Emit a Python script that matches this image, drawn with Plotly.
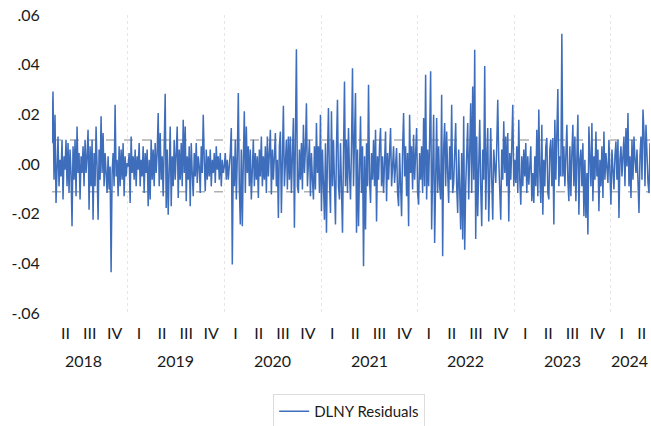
import pandas as pd
import plotly.graph_objects as go

# ---- data (residual values, in chronological order) ----
res_2018 = [.0084,.0292,-.0063,.0198,-.0157,.0031,.0111,-.009,.0017,-.005,
            .0098,-.0143,.0031,-.0023,.0098,-.009,.0084,-.0117,.0058,-.0036,
            -.0251,.0071,-.0063,.0098,-.013,.0151,-.0036,.0044,-.0143,.0031,
            -.0036,.0071,-.009,.0098,-.0036,.0031,.0138,-.0184,.0071,-.009,
            .0098,-.0224,.0044,-.009,.0151,-.001,-.0224,.0058,-.0063,.0192,
            -.0036,.0125,-.009,.0044,-.0063,-.0117,.0031,-.0103,-.001,-.0436,
            -.0036,.0044,-.009,.0239,-.005,.0017,-.013,.0071,-.009,.0058,
            -.0063,.0084,-.013,.0031,-.005,.0004]
res_2019 = [-.001,.0044,-.0157,.0111,-.0036,.0031,-.0063,.0058,-.009,.0031,
            -.0023,.0084,-.009,.0017,-.005,.0071,-.0117,.0044,-.0036,.0058,
            -.017,.0017,-.0143,.0098,-.0063,.0058,-.009,.0084,-.0036,.0044,
            .0205,-.009,.0125,-.0063,.0031,-.013,.0071,.0283,-.0177,.0058,
            -.0204,.0017,.0151,-.017,.0031,-.009,.0098,-.0063,.0044,.0151,
            -.0137,.0058,-.0063,.0084,-.009,.0178,-.0036,.0151,-.015,.0031,
            -.0063,.0071,-.017,.0084,-.0036,-.013,.0044,-.005,.0084,-.0076,
            .0031,-.001,-.0117,.0071,-.0036,.0198,.0017,-.011,.0058,-.0063,
            .0031,-.005,.0058,-.009,.0017,-.0036,.0044,-.0076,.0071,-.0023,
            .0031,-.0063,.0044,-.009,.0017,-.0036]
res_2020 = [-.001,.0044,-.0063,.0017,-.0063,-.0023,.0044,.0145,-.0405,.0031,
            -.009,.0098,-.0143,.0031,.0286,-.009,-.0244,.0058,-.0251,.0017,
            .0212,-.0117,.0151,-.0036,.0071,-.009,.0058,-.0143,.0031,.0098,
            -.009,.0044,-.0063,.0031,-.0137,.0058,-.005,.0111,-.009,.0031,
            -.0063,.0071,-.0117,.0111,-.005,.0044,.0138,-.0123,.0058,-.0063,
            .0031,.0125,-.009,.0017,-.0217,.0071,.0131,-.0197,.0017,.0235,
            -.009,.0058,.0098,-.0103,.0111,-.0063,.0111,-.0117,.0031,.0185,
            -.0257,.0058,.0462,-.009,-.0117,.0058,-.0063,.0084,-.0103,.0158,
            -.0036,.0058,.0245,-.009,.0017,.0098,-.013,.0044,-.0063,-.0143,
            .0071,-.0103,.0165,-.0036,.0071,-.0117,.0198]
res_2021 = [-.019,.0058,-.009,-.0224,.0084,-.0277,.0031,.0225,-.0063,-.0197,
            .0212,-.009,.0098,-.013,-.0244,.0071,.0259,-.009,-.0143,.0084,
            -.0063,-.0277,.0044,.0332,-.009,.0098,-.0117,.0145,-.0036,-.0143,
            .0071,.0386,-.009,.0098,.0286,-.0277,.0058,-.0251,-.009,.0192,
            -.0117,.0071,-.0412,.0031,-.0264,.0084,-.009,.0319,-.0063,-.0157,
            .0044,-.0063,.0098,-.009,.0138,-.0231,.0031,-.0063,.0071,.0145,
            -.009,.0031,-.0117,.0058,.0131,-.015,.0044,-.0063,.0084,.0145,
            -.009,.0031,.0071,-.0076,.0017,.0064,-.0117,-.017,.0044,-.0063,
            -.021,.0058,.0205,-.005,.0071,-.013,.0044,-.0251,.0198,-.0036,
            .0071,-.0103,.0118,-.0063,.0044,.0145,-.0117]
res_2022 = [-.0164,.0044,-.0063,.0071,-.0117,.0185,-.009,.0359,-.0143,.0058,
            -.009,.0098,.0373,-.0264,.0031,.0198,-.0318,.0017,.0185,-.0117,
            .0071,-.009,-.0143,.0279,-.0371,.0058,.0165,-.009,.0131,-.0036,
            -.0157,.0071,-.0063,.0239,-.0117,-.0076,.0084,.0165,-.009,-.0197,
            .0058,-.0143,-.0264,.0044,-.0304,.0192,-.0345,-.009,.0071,.0165,
            -.0143,.0125,.0245,-.0117,.0312,-.0063,.046,-.0302,.0111,-.021,
            .0044,.0178,-.009,-.0251,.0058,-.0063,.0395,-.0184,.0031,.0145,
            -.0231,.0044,.0145,-.0063,-.0224,.0058,-.0036,-.0076,.0071,.0259,
            .0017,-.009,-.0224,.0058,-.0063,.0172,-.0036,.0111,-.009,.0125,
            -.0231,.0044,-.0063,.0071,.0239,-.009]
res_2023 = [.0017,-.0076,.0071,-.0117,.0178,-.0063,-.0164,.0031,-.009,.0058,
            -.005,.0084,-.0117,.0031,-.0083,-.001,.0071,-.015,-.0036,-.0157,
            .0031,-.009,.0138,-.013,.0219,-.0036,-.0157,.0158,-.0204,.0017,
            -.009,.0071,.0105,-.0117,-.0143,.0058,.0098,-.009,.0105,-.0244,
            .0178,-.0063,.0151,.0302,-.009,.0031,-.005,.0524,-.005,.0071,
            -.009,.0031,.0158,-.0063,-.015,.0071,-.013,.0044,.0158,-.009,
            .0111,-.015,.0031,.0198,-.0204,.0017,.0058,-.009,.0084,-.021,
            .0017,-.0217,-.0036,-.0284,.0151,-.0036,-.009,.0165,-.015,.0031,
            -.0063,.0131,-.005,.0058,-.019,.0017,-.009,.0071,-.0137,.0131,
            -.0063,.0044,-.0036,-.0076,.0098,-.0063,-.0164]
res_2024 = [.0058,-.0063,-.0103,.0031,.0091,-.0063,.0098,-.0217,.0017,.0071,
            -.005,.0031,.0111,-.009,.0145,-.001,.0205,-.009,.0031,-.0137,
            .0098,-.0063,.0111,.0017,-.0036,.0058,-.0103,-.0197,.0031,.0111,
            -.0063,.0219,.0125,-.009,.0158,.0031,-.0076,-.0117,.0084]

sample_start = "2018-03-20"
sample_end = "2024-05-29"
band_levels = [0.0097, -0.0112]          # dashed reference lines
year_bounds = ["2019-01-01", "2020-01-01", "2021-01-01", "2022-01-01",
               "2023-01-01", "2024-01-01"]
year_labels = ["2018", "2019", "2020", "2021", "2022", "2023", "2024"]
year_label_dates = ["2018-07-18", "2019-07-02", "2020-07-01", "2021-07-02",
                    "2022-07-02", "2023-07-02", "2024-05-29"]
year_label_anchor = ["center"] * 6 + ["right"]
quarter_labels = ["II", "III", "IV"] + ["I", "II", "III", "IV"] * 5 + ["I", "II"]
quarter_tick_dates = ["2018-05-10", "2018-08-10", "2018-11-12"]
for yr in range(2019, 2024):
    quarter_tick_dates += [f"{yr}-02-12", f"{yr}-05-10", f"{yr}-08-10", f"{yr}-11-12"]
quarter_tick_dates += ["2024-02-12", "2024-04-28"]
y_tick_vals = [-0.06, -0.04, -0.02, 0.0, 0.02, 0.04, 0.06]
y_tick_text = ["-.06", "-.04", "-.02", ".00", ".02", ".04", ".06"]

values = res_2018 + res_2019 + res_2020 + res_2021 + res_2022 + res_2023 + res_2024
dates = pd.date_range(sample_start, sample_end, periods=len(values))

FONT = "Lato, 'Open Sans', sans-serif"
TXT = "#1a1a1a"
fig = go.Figure()
fig.add_trace(go.Scatter(x=dates, y=values, mode="lines", name="DLNY Residuals",
                         line=dict(color="#3e6dbb", width=1.5)))

for lvl in band_levels:
    fig.add_shape(type="line", xref="paper", x0=0, x1=1, yref="y", y0=lvl, y1=lvl,
                  line=dict(color="#b0b0b0", width=1.5, dash="dash"), layer="below")

for lab, d, anc in zip(year_labels, year_label_dates, year_label_anchor):
    fig.add_annotation(x=d, xref="x", y=-0.158, yref="paper", text=lab,
                       showarrow=False, xanchor=anc, yanchor="middle",
                       font=dict(family=FONT, size=16, color=TXT))

fig.update_layout(
    width=651, height=426,
    margin=dict(l=52, r=1, t=15, b=113, autoexpand=False),
    paper_bgcolor="white", plot_bgcolor="white",
    font=dict(family=FONT, size=16, color=TXT),
    showlegend=True,
    legend=dict(orientation="h", x=0.497, xanchor="center", y=-0.272, yanchor="top",
                bordercolor="#dcdcdc", borderwidth=1,
                font=dict(family=FONT, size=15, color=TXT)),
    xaxis=dict(range=[dates[0], dates[-1]], showline=False, zeroline=False,
               tickmode="array", tickvals=quarter_tick_dates, ticktext=quarter_labels,
               tickangle=0, ticks="outside", ticklen=6, tickcolor="rgba(0,0,0,0)",
               ticklabeloverflow="allow",
               showgrid=False,
               minor=dict(tickmode="array", tickvals=year_bounds, showgrid=True,
                          gridcolor="#e6e6e6", gridwidth=1, griddash="dot", ticks=""),
               tickfont=dict(family=FONT, size=16, color=TXT)),
    yaxis=dict(range=[-0.06, 0.06], showline=False, zeroline=False, showgrid=False,
               tickmode="array", tickvals=y_tick_vals, ticktext=y_tick_text,
               ticks="outside", ticklen=8, tickcolor="rgba(0,0,0,0)",
               ticklabeloverflow="allow",
               tickfont=dict(family=FONT, size=16, color=TXT)),
)

# remove the browser's default 8px body margin so the figure sits at the window origin
fig.write_html("out.html", config={"displayModeBar": False},
               post_script="document.body.style.margin='0px';")
